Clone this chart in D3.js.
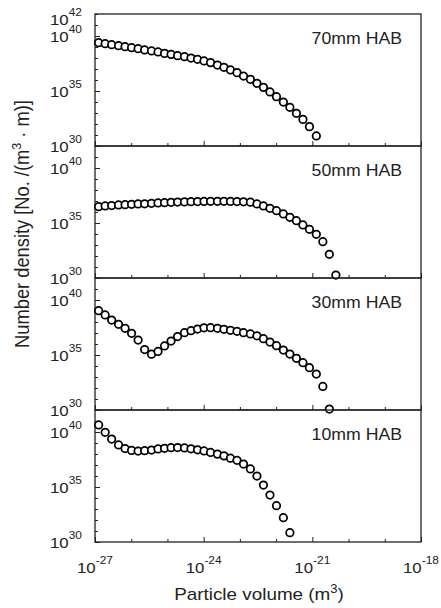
<!DOCTYPE html>
<html>
<head>
<meta charset="utf-8">
<script src="https://cdn.jsdelivr.net/npm/d3@7"></script>
<style>
  body { margin: 0; background: #fff; }
  text { font-family: "Liberation Sans", Arial, Helvetica, sans-serif; fill: #222; }
</style>
</head>
<body>
<svg id="chart" width="441" height="608"></svg>
<script>
// Particle volume bins, log10(m^3)
const volumeExp = [-26.90, -26.72, -26.54, -26.35, -26.17, -25.99, -25.81, -25.63, -25.44, -25.26,
                   -25.08, -24.90, -24.72, -24.53, -24.35, -24.17, -23.99, -23.81, -23.62, -23.44,
                   -23.26, -23.08, -22.90, -22.71, -22.53, -22.35, -22.17, -21.99, -21.80, -21.62,
                   -21.44, -21.26, -21.08, -20.89, -20.71, -20.53, -20.35];

// Number density, log10(No./(m^3 m)), one list per height above burner
const density70 = [39.39, 39.30, 39.21, 39.12, 39.03, 38.94, 38.85, 38.73, 38.64, 38.55,
                   38.42, 38.33, 38.21, 38.12, 38.00, 37.88, 37.73, 37.58, 37.36, 37.15,
                   36.91, 36.67, 36.36, 36.06, 35.70, 35.33, 34.91, 34.48, 34.00, 33.52,
                   32.97, 32.42, 31.76, 30.91];
const density50 = [36.48, 36.55, 36.59, 36.64, 36.66, 36.70, 36.73, 36.75, 36.79, 36.82,
                   36.85, 36.88, 36.90, 36.92, 36.94, 36.95, 36.96, 36.97, 36.97, 36.97,
                   36.96, 36.95, 36.93, 36.89, 36.73, 36.55, 36.34, 36.12, 35.82, 35.52,
                   35.21, 34.82, 34.43, 33.97, 33.30, 32.15, 30.27];
const density30 = [39.03, 38.64, 38.18, 37.79, 37.43, 36.97, 36.36, 35.50, 35.07, 35.32,
                   35.82, 36.27, 36.68, 37.03, 37.21, 37.36, 37.47, 37.48, 37.43, 37.34,
                   37.25, 37.15, 37.03, 36.91, 36.75, 36.48, 36.18, 35.85, 35.45, 35.09,
                   34.70, 34.30, 33.85, 33.27, 32.14, 30.09];
const density10 = [40.64, 39.97, 39.36, 38.82, 38.50, 38.32, 38.27, 38.30, 38.36, 38.46,
                   38.52, 38.57, 38.59, 38.55, 38.47, 38.38, 38.28, 38.14, 37.99, 37.83,
                   37.62, 37.43, 37.09, 36.64, 36.00, 35.18, 34.27, 33.30, 32.21, 30.85];

const panelLabels = ["70mm HAB", "50mm HAB", "30mm HAB", "10mm HAB"];
const panelSeries = [density70, density50, density30, density10];

// Axis ticks (decade exponents)
const xTickExp = [-27, -26, -25, -24, -23, -22, -21, -20, -19, -18];
const xLabelExp = [-27, -24, -21, -18];
const yTickExp = [30, 31, 32, 33, 34, 35, 36, 37, 38, 39, 40, 41, 42];
const yLabelExp = [30, 35, 40];

const svg = d3.select("#chart");
const left = 95, right = 421, top0 = 14, panelH = 132;
const stretch = 1.085; // slightly wide lettering

const x = d3.scaleLog().domain([1e-27, 1e-18]).range([left, right]);

// horizontal text anchored at (tx, ty), widened a little
function wideText(parent, tx, ty, anchor, size) {
  return parent.append("text")
    .attr("transform", `translate(${tx},${ty}) scale(${stretch},1)`)
    .attr("text-anchor", anchor)
    .style("font-size", size + "px");
}

function powerLabel(parent, tx, ty, anchor, exp) {
  const t = wideText(parent, tx, ty, anchor, 15.5);
  t.append("tspan").text("10");
  t.append("tspan").attr("dy", -8.5).style("font-size", "11px").text(exp);
  return t;
}

panelSeries.forEach((series, i) => {
  const top = top0 + i * panelH;
  const y = d3.scaleLog().domain([1e30, 1e42]).range([top + panelH, top]);
  const g = svg.append("g");

  // y ticks, pointing into the panel
  const yMinor = yTickExp.filter(e => !yLabelExp.includes(e)).map(e => Math.pow(10, e));
  const yMajor = yLabelExp.map(e => Math.pow(10, e));
  [[yMinor, 3], [yMajor, 5]].forEach(([vals, len]) => {
    g.append("g")
      .attr("transform", `translate(${left},0)`)
      .call(d3.axisLeft(y).tickValues(vals).tickSize(-len).tickFormat(""))
      .call(a => a.select(".domain").remove())
      .call(a => a.selectAll("line").attr("stroke", "#222").attr("stroke-width", 1));
  });

  // x ticks along the panel bottom
  const xMinor = xTickExp.filter(e => !xLabelExp.includes(e)).map(e => Math.pow(10, e));
  const xMajor = xLabelExp.map(e => Math.pow(10, e));
  [[xMinor, 3], [xMajor, 5]].forEach(([vals, len]) => {
    g.append("g")
      .attr("transform", `translate(0,${top + panelH})`)
      .call(d3.axisBottom(x).tickValues(vals).tickSize(-len).tickFormat(""))
      .call(a => a.select(".domain").remove())
      .call(a => a.selectAll("line").attr("stroke", "#222").attr("stroke-width", 1));
  });

  // y tick labels 10^n
  const labels = i === 0 ? yLabelExp.concat([42]) : yLabelExp;
  labels.forEach(e => {
    const ty = y(Math.pow(10, e)) + 5.5 + (e === 42 ? 5 : 0);
    powerLabel(g, left - 13, ty, "end", e);
  });

  // panel frame
  g.append("rect")
    .attr("x", left).attr("y", top)
    .attr("width", right - left).attr("height", panelH)
    .attr("fill", "none").attr("stroke", "#222").attr("stroke-width", 1.3);

  // data markers
  g.selectAll("circle")
    .data(series.map((d, k) => ({ v: Math.pow(10, volumeExp[k]), n: Math.pow(10, d) })))
    .join("circle")
    .attr("cx", d => x(d.v))
    .attr("cy", d => y(d.n))
    .attr("r", 3.75)
    .attr("fill", "#fff")
    .attr("stroke", "#000")
    .attr("stroke-width", 1.75);

  // panel label
  wideText(g, 402, top + 29.5, "end", 16.3).text(panelLabels[i]);
});

// x tick labels under the bottom panel
const bottom = top0 + 4 * panelH;
xLabelExp.forEach(e => {
  powerLabel(svg, x(Math.pow(10, e)), bottom + 30.5, "middle", e);
});

// axis titles
const xt = wideText(svg, (left + right) / 2 + 1, 600, "middle", 17.4);
xt.append("tspan").text("Particle volume (m");
xt.append("tspan").attr("dy", -7).style("font-size", "12px").text("3");
xt.append("tspan").attr("dy", 7).text(")");

const yt = svg.append("text")
  .attr("transform", `translate(29,224) rotate(-90) scale(1,${stretch})`)
  .attr("text-anchor", "middle")
  .style("font-size", "18.3px");
yt.append("tspan").text("Number density [No. /(m");
yt.append("tspan").attr("dy", -7).style("font-size", "12.5px").text("3");
yt.append("tspan").attr("dy", 7).text(" \u00B7 m)]");
</script>
</body>
</html>
